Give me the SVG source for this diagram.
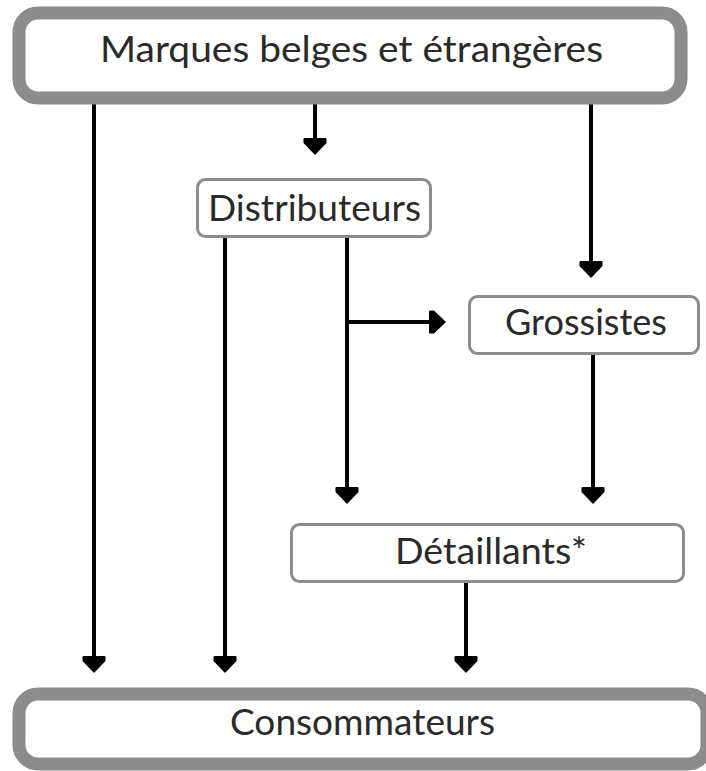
<svg xmlns="http://www.w3.org/2000/svg" width="706" height="771" viewBox="0 0 706 771">
<style>
.big{fill:#fff;stroke:#8c8c8c;stroke-width:13}
.small{fill:#fff;stroke:#8c8c8c;stroke-width:3}
.lbl{font-family:Lato,"Noto Sans","Liberation Sans",sans-serif;font-size:37px;font-weight:400;fill:#2a2a2a;text-anchor:middle}
.con{fill:none;stroke:#000;stroke-width:4}
</style>
<defs>
<marker id="ah" markerUnits="userSpaceOnUse" viewBox="-17 -12 17 24" markerWidth="17" markerHeight="24" refX="-11" refY="0" orient="auto" overflow="visible">
<path d="M0,0 L-12,-11.5 L-16,-11.5 Q-17,-11.5 -17,-10.5 L-17,10.5 Q-17,11.5 -16,11.5 L-12,11.5 Z" fill="#000"/>
</marker>
</defs>
<rect width="706" height="771" fill="#fff"/>
<g id="connectors">
<path class="con" d="M94,104 V662" marker-end="url(#ah)"/>
<path class="con" d="M315,104 V144" marker-end="url(#ah)"/>
<path class="con" d="M591,104 V267" marker-end="url(#ah)"/>
<path class="con" d="M225,238 V662" marker-end="url(#ah)"/>
<path class="con" d="M347,238 V493" marker-end="url(#ah)"/>
<path class="con" d="M347,322 H435" marker-end="url(#ah)"/>
<path class="con" d="M593,355 V493" marker-end="url(#ah)"/>
<path class="con" d="M466,583 V662" marker-end="url(#ah)"/>
</g>
<g id="marques">
<rect class="big" x="19" y="13" width="662" height="85" rx="19"/>
<text class="lbl" x="351.5" y="62" textLength="503" lengthAdjust="spacingAndGlyphs">Marques belges et étrangères</text>
</g>
<g id="distributeurs">
<rect class="small" x="197.5" y="179.5" width="233" height="57" rx="8"/>
<text class="lbl" x="314.5" y="221" textLength="213" lengthAdjust="spacingAndGlyphs">Distributeurs</text>
</g>
<g id="grossistes">
<rect class="small" x="469.5" y="296.5" width="229" height="57" rx="8"/>
<text class="lbl" x="586" y="335" textLength="162" lengthAdjust="spacingAndGlyphs">Grossistes</text>
</g>
<g id="detaillants">
<rect class="small" x="291.5" y="524.5" width="392" height="57" rx="8"/>
<text class="lbl" x="491" y="564" textLength="192" lengthAdjust="spacingAndGlyphs">Détaillants*</text>
</g>
<g id="consommateurs">
<rect class="big" x="19" y="694" width="688" height="70" rx="19"/>
<text class="lbl" x="362.5" y="735" textLength="265" lengthAdjust="spacingAndGlyphs">Consommateurs</text>
</g>
</svg>
